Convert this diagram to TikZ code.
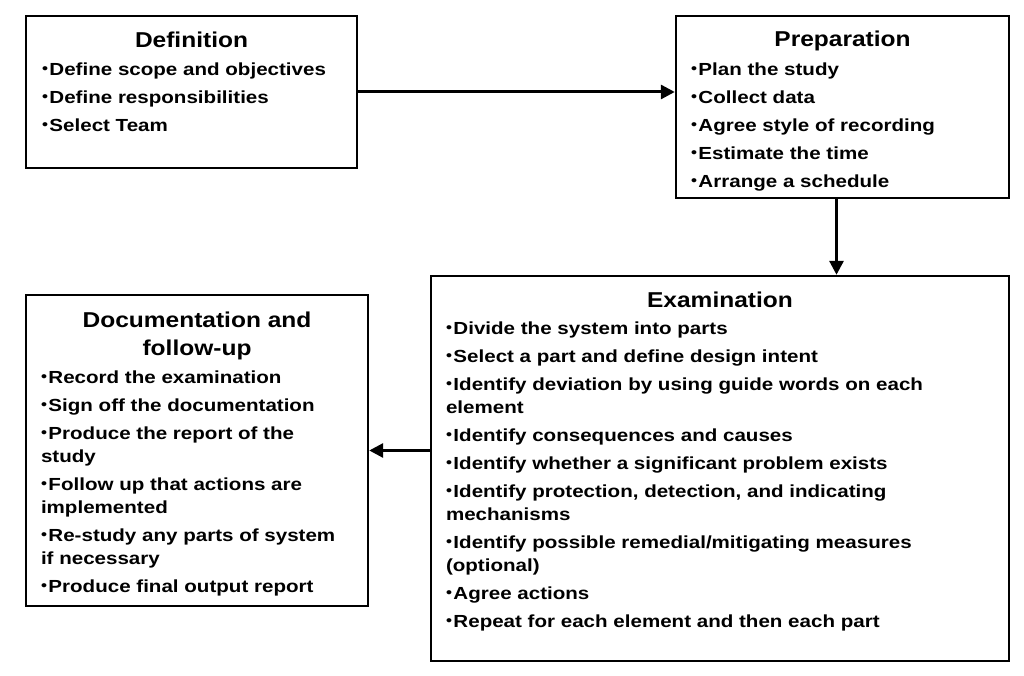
\documentclass[tikz,border=0pt]{standalone}
\usepackage{fontspec}
\setmainfont{Liberation Sans}[FakeStretch=1.14]
\newfontfamily\listfont{Liberation Sans}[FakeStretch=1.175]
\usetikzlibrary{positioning,arrows.meta}

\newcommand{\bul}{{\fontsize{14.5}{14.5}\selectfont\raisebox{1.8pt}{•}}\hspace{1.5pt}}

\begin{document}
\begin{tikzpicture}[
    x=1pt, y=1pt,
    stage/.style={rectangle, draw=black, line width=2.4pt, inner sep=0pt},
    heading/.style={font=\fontsize{21.5}{28}\selectfont\bfseries, anchor=base, inner sep=0pt, align=center},
    items/.style={font=\listfont\fontsize{17.5}{23}\selectfont\bfseries, anchor=north west, inner sep=0pt, align=left},
    flow/.style={-{Triangle[length=14pt,width=14pt]}, line width=3pt}
]
\useasboundingbox (0,0) rectangle (1024,676);

% Boxes
\node[stage, minimum width=331pt, minimum height=152pt] (def) at (191.5, 584) {};
\node[stage, minimum width=333pt, minimum height=182pt] (prep) at (842.5, 569) {};
\node[stage, minimum width=578pt, minimum height=385pt] (exam) at (720, 207.5) {};
\node[stage, minimum width=342pt, minimum height=311pt] (doc) at (197, 225.5) {};

% Definition
\node[heading] (def-title) at (191.5, 628) {Definition};
\node[items] (def-list) at ([xshift=17pt, yshift=-48pt]def.north west) {%
\bul Define scope and objectives\\[5pt]
\bul Define responsibilities\\[5pt]
\bul Select Team};

% Preparation
\node[heading] (prep-title) at (842.5, 629) {Preparation};
\node[items] (prep-list) at ([xshift=16pt, yshift=-48pt]prep.north west) {%
\bul Plan the study\\[5pt]
\bul Collect data\\[5pt]
\bul Agree style of recording\\[5pt]
\bul Estimate the time\\[5pt]
\bul Arrange a schedule};

% Examination
\node[heading] (exam-title) at (720, 368) {Examination};
\node[items] (exam-list) at ([xshift=16pt, yshift=-47pt]exam.north west) {%
\bul Divide the system into parts\\[5pt]
\bul Select a part and define design intent\\[5pt]
\bul Identify deviation by using guide words on each\\
element\\[5pt]
\bul Identify consequences and causes\\[5pt]
\bul Identify whether a significant problem exists\\[5pt]
\bul Identify protection, detection, and indicating\\
mechanisms\\[5pt]
\bul Identify possible remedial/mitigating measures\\
(optional)\\[5pt]
\bul Agree actions\\[5pt]
\bul Repeat for each element and then each part};

% Documentation and follow-up
\node[heading] (doc-title) at (197, 320) {Documentation and\\follow-up};
\node[items] (doc-list) at ([xshift=16pt, yshift=-77pt]doc.north west) {%
\bul Record the examination\\[5pt]
\bul Sign off the documentation\\[5pt]
\bul Produce the report of the\\
study\\[5pt]
\bul Follow up that actions are\\
implemented\\[5pt]
\bul Re-study any parts of system\\
if necessary\\[5pt]
\bul Produce final output report};

% Connectors
\draw[flow] (def.east) -- (def.east -| prep.west);
\draw[flow] ([xshift=-6pt]prep.south) -- ([xshift=-6pt]prep.south |- exam.north);
\draw[flow] (exam.west |- doc.east) -- (doc.east);

\end{tikzpicture}
\end{document}
